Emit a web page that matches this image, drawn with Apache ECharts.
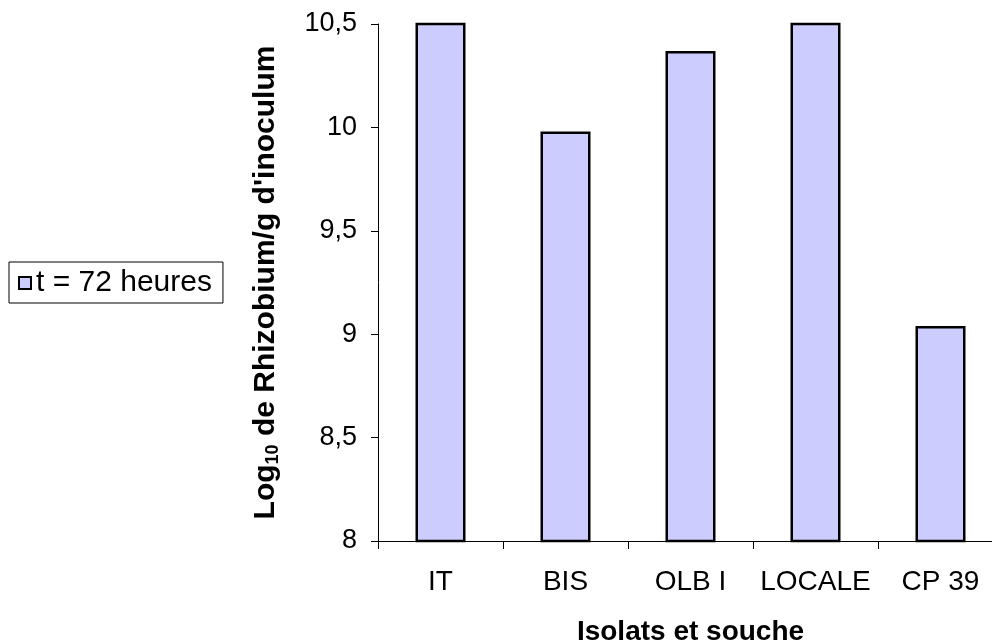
<!DOCTYPE html>
<html>
<head>
<meta charset="utf-8">
<title>Log10 de Rhizobium/g d'inoculum</title>
<script src="https://cdn.jsdelivr.net/npm/echarts@6/dist/echarts.min.js"></script>
<style>
  html, body { margin: 0; padding: 0; background: #fff; }
  #chart { width: 992px; height: 644px; }
</style>
</head>
<body>
<div id="chart"></div>
<script>
// Isolates and reference strain
const categories = ['IT', 'BIS', 'OLB I', 'LOCALE', 'CP 39'];
// Log10 counts after 72 h (IT and LOCALE run past the top of the scale)
const values72h = [10.52, 9.98, 10.37, 10.52, 9.04];
const seriesName = 't = 72 heures';
const yTicks = { min: 8, max: 10.5, step: 0.5 };

const FONT = '"Liberation Sans", Arial, sans-serif';

const chart = echarts.init(document.getElementById('chart'), null, { renderer: 'canvas' });

chart.setOption({
  backgroundColor: '#ffffff',
  animation: false,
  grid: { left: 378, right: -11, top: 24, bottom: 103, containLabel: false, outerBoundsMode: 'none' },
  legend: {
    show: true,
    left: 9,
    top: 262,
    orient: 'vertical',
    padding: [6, 11, 5, 9],
    borderColor: '#000',
    borderWidth: 1,
    itemWidth: 12,
    itemHeight: 12,
    icon: 'rect',
    textStyle: { fontFamily: FONT, fontSize: 30, color: '#000' },
    data: [{ name: seriesName, itemStyle: { color: '#ccccff', borderColor: '#000', borderWidth: 2 } }]
  },
  xAxis: {
    type: 'category',
    data: categories,
    boundaryGap: true,
    name: 'Isolats et souche',
    nameLocation: 'middle',
    nameGap: 77,
    nameTextStyle: { fontFamily: FONT, fontSize: 28, fontWeight: 'bold', color: '#000' },
    axisLine: { show: true, lineStyle: { color: '#000', width: 1 } },
    axisTick: { show: true, interval: 0, alignWithLabel: false, length: 8, lineStyle: { color: '#000' } },
    axisLabel: { interval: 0, fontFamily: FONT, fontSize: 28, color: '#000', margin: 27 },
    splitLine: { show: false }
  },
  yAxis: {
    type: 'value',
    min: yTicks.min,
    max: yTicks.max,
    interval: yTicks.step,
    name: '{a|Log}{b|10}{a| de Rhizobium/g d\'inoculum}',
    nameLocation: 'middle',
    nameGap: 96,
    nameTextStyle: {
      rich: {
        a: { fontFamily: FONT, fontSize: 30, fontWeight: 'bold', color: '#000', lineHeight: 32 },
        b: { fontFamily: FONT, fontSize: 18, fontWeight: 'bold', color: '#000', lineHeight: 17, verticalAlign: 'bottom' }
      }
    },
    axisLine: { show: true, lineStyle: { color: '#000', width: 1 } },
    axisTick: { show: true, length: 7, lineStyle: { color: '#000' } },
    axisLabel: {
      fontFamily: FONT, fontSize: 27, color: '#000', margin: 21,
      formatter: v => String(v).replace('.', ',')
    },
    splitLine: { show: false }
  },
  series: [{
    name: seriesName,
    type: 'bar',
    data: values72h,
    barWidth: 50,
    clip: true,
    itemStyle: { color: '#ccccff', borderColor: '#000', borderWidth: 2.5 },
    emphasis: { disabled: true }
  }]
});
</script>
</body>
</html>
